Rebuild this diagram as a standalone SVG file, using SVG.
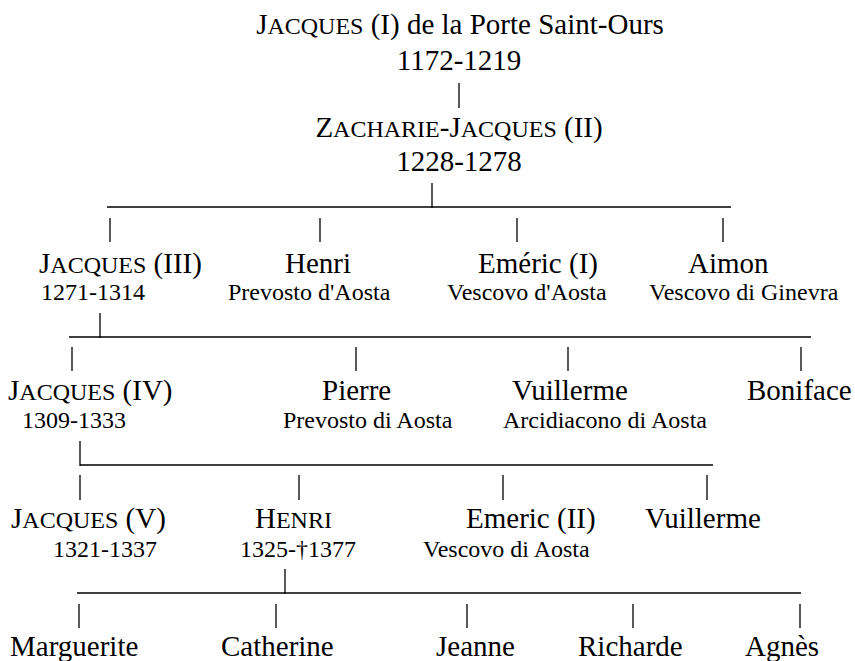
<svg xmlns="http://www.w3.org/2000/svg" width="855" height="661" viewBox="0 0 855 661">
<style>
text{font-family:"Liberation Serif","Times New Roman",serif;fill:#000}
.n{font-size:29px}
.s{font-size:24px}
.sc{font-size:24px}
.c{text-anchor:middle}
#connectors line{stroke:#000;stroke-width:1.3}
</style>
<rect width="855" height="661" fill="#fff"/>
<g id="connectors">
<line x1="459" y1="83" x2="459" y2="108"/>
<line x1="107" y1="207" x2="731" y2="207"/>
<line x1="432" y1="183" x2="432" y2="208"/>
<line x1="110" y1="218" x2="110" y2="242"/>
<line x1="320" y1="218" x2="320" y2="242"/>
<line x1="517" y1="218" x2="517" y2="242"/>
<line x1="723" y1="218" x2="723" y2="242"/>
<line x1="69" y1="337" x2="811" y2="337"/>
<line x1="100" y1="313" x2="100" y2="338"/>
<line x1="72" y1="347" x2="72" y2="371"/>
<line x1="356" y1="347" x2="356" y2="371"/>
<line x1="568" y1="347" x2="568" y2="371"/>
<line x1="801" y1="347" x2="801" y2="371"/>
<line x1="80" y1="465" x2="713" y2="465"/>
<line x1="80" y1="441" x2="80" y2="466"/>
<line x1="80" y1="475" x2="80" y2="500"/>
<line x1="299" y1="475" x2="299" y2="500"/>
<line x1="503" y1="475" x2="503" y2="500"/>
<line x1="707" y1="475" x2="707" y2="500"/>
<line x1="77" y1="593" x2="801" y2="593"/>
<line x1="285" y1="569" x2="285" y2="594"/>
<line x1="79" y1="604" x2="79" y2="628"/>
<line x1="276" y1="604" x2="276" y2="628"/>
<line x1="467" y1="604" x2="467" y2="628"/>
<line x1="633" y1="604" x2="633" y2="628"/>
<line x1="800" y1="604" x2="800" y2="628"/>
</g>
<g id="jacques1">
<text class="n c" x="460" y="34">J<tspan class="sc">ACQUES</tspan> (I) de la Porte Saint-Ours</text>
<text class="n c" x="459" y="70">1172-1219</text>
</g>
<g id="zacharie">
<text class="n c" x="459" y="137">Z<tspan class="sc">ACHARIE</tspan>-J<tspan class="sc">ACQUES</tspan> (II)</text>
<text class="n c" x="459" y="171">1228-1278</text>
</g>
<g id="jacques3">
<text class="n" x="39" y="273">J<tspan class="sc">ACQUES</tspan> (III)</text>
<text class="s" x="41" y="300">1271-1314</text>
</g>
<g id="henri1">
<text class="n" x="285" y="273">Henri</text>
<text class="s" x="228" y="300">Prevosto d'Aosta</text>
</g>
<g id="emeric1">
<text class="n" x="478" y="273">Eméric (I)</text>
<text class="s" x="447" y="300">Vescovo d'Aosta</text>
</g>
<g id="aimon">
<text class="n" x="688" y="273">Aimon</text>
<text class="s" x="649" y="300">Vescovo di Ginevra</text>
</g>
<g id="jacques4">
<text class="n" x="8" y="400">J<tspan class="sc">ACQUES</tspan> (IV)</text>
<text class="s" x="22" y="428">1309-1333</text>
</g>
<g id="pierre">
<text class="n" x="322" y="400">Pierre</text>
<text class="s" x="283" y="428">Prevosto di Aosta</text>
</g>
<g id="vuillerme1">
<text class="n" x="512" y="400">Vuillerme</text>
<text class="s" x="503" y="428">Arcidiacono di Aosta</text>
</g>
<g id="boniface">
<text class="n" x="747" y="400">Boniface</text>
</g>
<g id="jacques5">
<text class="n" x="11" y="528">J<tspan class="sc">ACQUES</tspan> (V)</text>
<text class="s" x="53" y="557">1321-1337</text>
</g>
<g id="henri2">
<text class="n" x="255" y="528">H<tspan class="sc">ENRI</tspan></text>
<text class="s" x="240" y="557">1325-†1377</text>
</g>
<g id="emeric2">
<text class="n" x="466" y="528">Emeric (II)</text>
<text class="s" x="423" y="557">Vescovo di Aosta</text>
</g>
<g id="vuillerme2">
<text class="n" x="645" y="528">Vuillerme</text>
</g>
<g id="marguerite"><text class="n" x="10" y="656">Marguerite</text></g>
<g id="catherine"><text class="n" x="221" y="656">Catherine</text></g>
<g id="jeanne"><text class="n" x="436" y="656">Jeanne</text></g>
<g id="richarde"><text class="n" x="578" y="656">Richarde</text></g>
<g id="agnes"><text class="n" x="745" y="656">Agnès</text></g>
</svg>
